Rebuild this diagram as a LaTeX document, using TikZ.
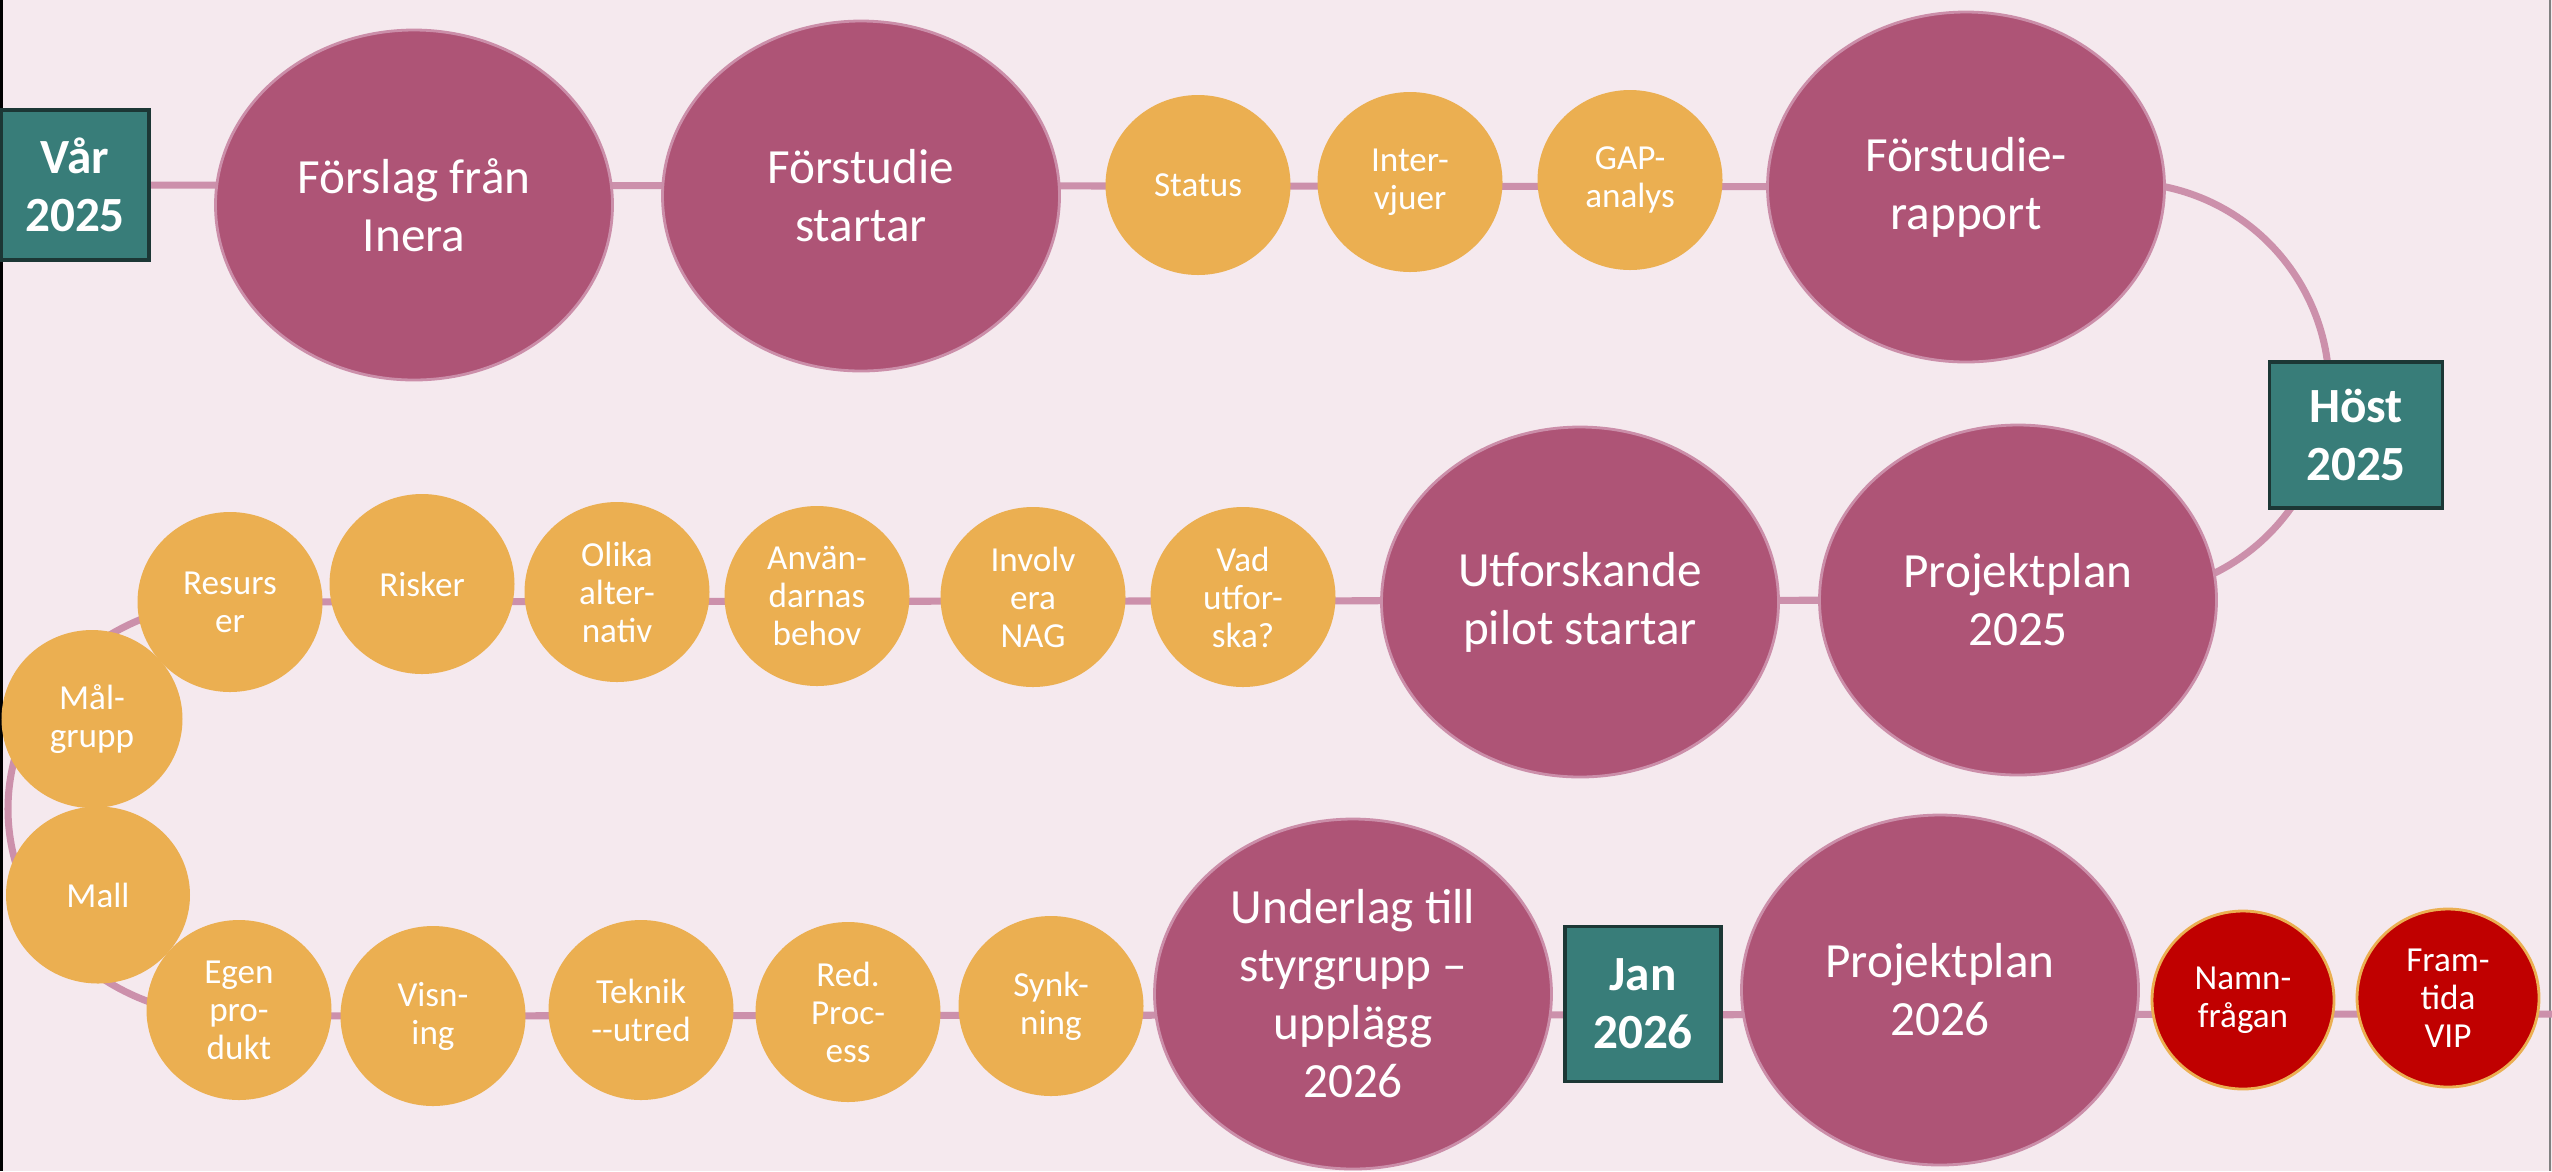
\documentclass[tikz,border=0pt]{standalone}
\usepackage{fontspec}
\setmainfont{Carlito}
\usetikzlibrary{shapes.geometric,backgrounds}

\definecolor{bgpink}{HTML}{F5E9EE}
\definecolor{plum}{HTML}{AE5476}
\definecolor{plumrim}{HTML}{CB8EA9}
\definecolor{trackpink}{HTML}{CC90AB}
\definecolor{amber}{HTML}{EBAF51}
\definecolor{deepred}{HTML}{C00000}
\definecolor{seasongreen}{HTML}{387D79}
\definecolor{seasonrim}{HTML}{1C3735}

\begin{document}
\begin{tikzpicture}[
	milestone/.style={shape=ellipse, fill=plum, draw=plumrim, line width=0.8pt, minimum width=3.97cm, minimum height=3.5cm, inner sep=0pt, text=white, align=center, font=\fontsize{14}{16.5}\selectfont},
	task/.style={shape=ellipse, fill=amber, minimum width=1.85cm, minimum height=1.8cm, inner sep=0pt, text=white, align=center, font=\fontsize{10}{10.8}\selectfont},
	hottask/.style={task, fill=deepred, draw=amber, line width=0.8pt, minimum width=1.82cm, minimum height=1.78cm},
	season/.style={shape=rectangle, fill=seasongreen, draw=seasonrim, line width=0.9pt, inner sep=0pt, text=white, align=center, font=\bfseries\fontsize{14}{16.5}\selectfont},
	track/.style={draw=trackpink, line width=2pt}
	]
			\useasboundingbox (0,0) rectangle (25.52,-11.71);
			
			% row 1
			\node[season, minimum width=1.48cm, minimum height=1.5cm] (var) at (0.75,-1.85) {Vår\\2025};
			\node[milestone] (forslag) at (4.14,-2.05) {Förslag från\\Inera};
			\node[milestone] (forstart) at (8.61,-1.96) {Förstudie\\startar};
			\node[task] (status) at (11.98,-1.85) {Status};
			\node[task] (inter) at (14.10,-1.82) {Inter-\\vjuer};
			\node[task] (gap) at (16.30,-1.80) {GAP-\\analys};
			\node[milestone] (rapport) at (19.66,-1.87) {Förstudie-\\rapport};
			\node[season, minimum width=1.73cm, minimum height=1.46cm] (host) at (23.56,-4.35) {Höst\\2025};
			
			% row 2
			\node[milestone] (proj25) at (20.18,-6.00) {Projektplan\\2025};
			\node[milestone] (pilot) at (15.80,-6.02) {Utforskande\\pilot startar};
			\node[task] (vad) at (12.43,-5.97) {Vad\\utfor-\\ska?};
			\node[task] (nag) at (10.33,-5.97) {Involv\\era\\NAG};
			\node[task] (behov) at (8.17,-5.96) {Använ-\\darnas\\behov};
			\node[task] (olika) at (6.17,-5.92) {Olika\\alter-\\nativ};
			\node[task] (risker) at (4.22,-5.84) {Risker};
			\node[task] (resurs) at (2.30,-6.02) {Resurs\\er};
			\node[task, minimum width=1.81cm, minimum height=1.78cm] (malgrupp) at (0.92,-7.19) {Mål-\\grupp};
			\node[task, minimum width=1.84cm, minimum height=1.77cm] (mall) at (0.98,-8.95) {Mall};
			
			% row 3
			\node[task] (egen) at (2.39,-10.10) {Egen\\pro-\\dukt};
			\node[task] (visning) at (4.33,-10.16) {Visn-\\ing};
			\node[task] (teknik) at (6.41,-10.10) {Teknik\\{-}{-}utred};
			\node[task] (process) at (8.48,-10.12) {Red.\\Proc-\\ess};
			\node[task] (synk) at (10.51,-10.06) {Synk-\\ning};
			\node[milestone] (underlag) at (13.53,-9.94) {Underlag till\\styrgrupp –\\upplägg\\2026};
			\node[season, minimum width=1.56cm, minimum height=1.55cm] (jan) at (16.43,-10.04) {Jan\\2026};
			\node[milestone] (proj26) at (19.40,-9.90) {Projektplan\\2026};
			\node[hottask] (namn) at (22.43,-10.00) {Namn-\\frågan};
			\node[hottask] (vip) at (24.48,-9.98) {Fram-\\tida\\VIP};
			\coordinate (rowend) at (25.60,-10.14);
			
			\begin{pgfonlayer}{background}
				\fill[bgpink] (0,0) rectangle (25.52,-11.71);
				\draw[black, line width=0.9pt] (0.015,0) -- (0.015,-11.71);
				\draw[gray, line width=0.6pt] (25.50,0) -- (25.50,-11.71);
				\path[track] (var.center) -- (rapport.east) arc[start angle=78, end angle=-70, radius=2.06] -- (proj25.center) -- (resurs.center) arc[start angle=90, end angle=270, x radius=2.22, y radius=2.07] -- (rowend);
			\end{pgfonlayer}
		\end{tikzpicture}
\end{document}
